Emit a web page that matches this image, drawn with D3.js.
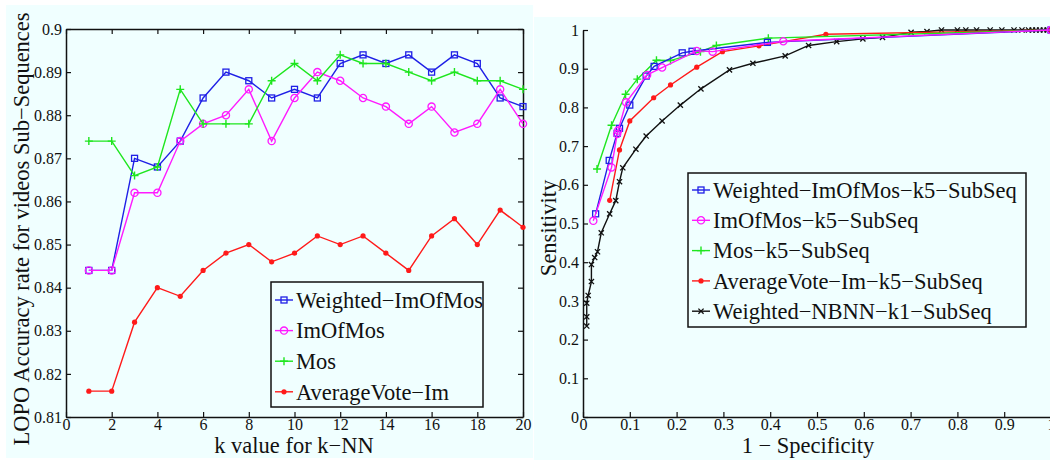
<!DOCTYPE html>
<html>
<head>
<meta charset="utf-8">
<script src="https://cdn.jsdelivr.net/npm/d3@7"></script>
<style>
body{margin:0;background:#fff;}
svg text{font-family:"Liberation Serif","Times New Roman",serif;fill:#111;}
</style>
</head>
<body>
<svg id="fig"></svg>
<script>
// left chart: accuracy vs k
var kValues=[1,2,3,4,5,6,7,8,9,10,11,12,13,14,15,16,17,18,19,20]
var weightedImOfMos=[0.844,0.844,0.870,0.868,0.874,0.884,0.890,0.888,0.884,0.886,0.884,0.892,0.894,0.892,0.894,0.890,0.894,0.892,0.884,0.882]
var imOfMos=[0.844,0.844,0.862,0.862,0.874,0.878,0.880,0.886,0.874,0.884,0.890,0.888,0.884,0.882,0.878,0.882,0.876,0.878,0.886,0.878]
var mos=[0.874,0.874,0.866,0.868,0.886,0.878,0.878,0.878,0.888,0.892,0.888,0.894,0.892,0.892,0.890,0.888,0.890,0.888,0.888,0.886]
var averageVoteIm=[0.816,0.816,0.832,0.840,0.838,0.844,0.848,0.850,0.846,0.848,0.852,0.850,0.852,0.848,0.844,0.852,0.856,0.850,0.858,0.854]
var leftNames=["Weighted\u2212ImOfMos","ImOfMos","Mos","AverageVote\u2212Im"]
var leftXTicks=[0,2,4,6,8,10,12,14,16,18,20]
var leftYTicks=[0.81,0.82,0.83,0.84,0.85,0.86,0.87,0.88,0.89,0.9]

// right chart: ROC points [1-specificity, sensitivity]
var rocWeightedImOfMos=[[0.027,0.525],[0.056,0.663],[0.073,0.733],[0.078,0.746],[0.100,0.806],[0.135,0.881],[0.152,0.906],[0.212,0.941],[0.233,0.945],[0.394,0.968],[1,1]]
var rocImOfMos=[[0.022,0.507],[0.061,0.645],[0.073,0.731],[0.075,0.740],[0.092,0.813],[0.137,0.884],[0.169,0.903],[0.243,0.946],[0.277,0.944],[0.428,0.971],[1,1]]
var rocMos=[[0.030,0.641],[0.061,0.754],[0.091,0.834],[0.116,0.873],[0.157,0.922],[0.187,0.921],[0.251,0.944],[0.285,0.960],[0.396,0.979],[1,1]]
var rocAverageVote=[[0.057,0.560],[0.078,0.690],[0.100,0.765],[0.151,0.825],[0.187,0.858],[0.243,0.904],[0.298,0.944],[0.376,0.959],[0.519,0.989],[1,1]]
var rocNBNN=[[0.008,0.235],[0.008,0.259],[0.008,0.294],[0.011,0.314],[0.018,0.350],[0.018,0.394],[0.025,0.412],[0.031,0.427],[0.039,0.476],[0.057,0.525],[0.070,0.559],[0.078,0.608],[0.085,0.644],[0.113,0.692],[0.135,0.726],[0.169,0.765],[0.208,0.806],[0.252,0.848],[0.313,0.897],[0.363,0.914],[0.432,0.933],[0.482,0.960],[0.542,0.970],[0.598,0.977],[0.640,0.981],[0.701,0.994],[0.735,0.996],[0.766,1],[0.800,1],[0.818,1],[0.841,1],[0.870,1],[0.895,1],[0.921,1],[0.938,1],[0.952,1],[0.960,1],[0.968,1],[0.976,1],[0.984,1],[0.992,1],[1,1]]
var rightNames=["Weighted\u2212ImOfMos\u2212k5\u2212SubSeq","ImOfMos\u2212k5\u2212SubSeq","Mos\u2212k5\u2212SubSeq","AverageVote\u2212Im\u2212k5\u2212SubSeq","Weighted\u2212NBNN\u2212k1\u2212SubSeq"]
var rightTicks=[0,0.1,0.2,0.3,0.4,0.5,0.6,0.7,0.8,0.9,1]

var colors=["#1f1fe6","#ff1aff","#1ee61e","#ff1a1a","#111"]
var markers=["square","circle","plus","dot","cross"]

var svg=d3.select("#fig").attr("width",1050).attr("height",460)

// panel backgrounds
svg.append("rect").attr("x",6).attr("y",5).attr("width",527).attr("height",453).attr("fill","#f0ffff")
svg.append("rect").attr("x",534).attr("y",17).attr("width",516).attr("height",443).attr("fill","#f0ffff")

var drawMarker=function(g,type,color){
    if(type=="square"){
        g.append("rect").attr("x",-3).attr("y",-3).attr("width",6).attr("height",6)
        .attr("fill","none").attr("stroke",color).attr("stroke-width",1.3)
    } else if(type=="circle"){
        g.append("circle").attr("r",3.6).attr("fill","none").attr("stroke",color).attr("stroke-width",1.3)
    } else if(type=="plus"){
        g.append("path").attr("d","M-4,0H4M0,-4V4").attr("stroke",color).attr("stroke-width",1.4)
    } else if(type=="dot"){
        g.append("circle").attr("r",2.6).attr("fill",color)
    } else {
        g.append("path").attr("d","M-2.6,-2.6L2.6,2.6M-2.6,2.6L2.6,-2.6").attr("stroke",color).attr("stroke-width",1.3)
    }
}

var drawSeries=function(g,pts,x,y,i){
    var line=d3.line().x(function(d){return x(d[0])}).y(function(d){return y(d[1])})
    g.append("path").datum(pts).attr("d",line).attr("fill","none")
    .attr("stroke",colors[i]).attr("stroke-width",1.4)
    pts.forEach(function(d){
        var m=g.append("g").attr("transform","translate("+x(d[0])+","+y(d[1])+")")
        drawMarker(m,markers[i],colors[i])
    })
}

var styleAxis=function(a){
    a.select(".domain").attr("stroke","#111").attr("stroke-width",1.5)
    a.selectAll(".tick line").attr("stroke","#111").attr("stroke-width",1.2)
    a.selectAll(".tick text").style("font-size","16px").style("font-family","Liberation Serif")
}

var drawLegend=function(g,names,x0,y0,w,h,y1,gap,idx){
    g.append("rect").attr("x",x0).attr("y",y0).attr("width",w).attr("height",h)
    .attr("fill","#f0ffff").attr("stroke","#111").attr("stroke-width",1.5)
    names.forEach(function(n,j){
        var i=idx[j]
        var yy=y1+j*gap
        g.append("line").attr("x1",x0+4).attr("x2",x0+22).attr("y1",yy).attr("y2",yy)
        .attr("stroke",colors[i]).attr("stroke-width",1.4)
        var m=g.append("g").attr("transform","translate("+(x0+13)+","+yy+")")
        drawMarker(m,markers[i],colors[i])
        g.append("text").attr("x",x0+25).attr("y",yy).attr("dy","0.35em")
        .style("font-size","22.5px").text(n)
    })
}

//---------- left chart
var lx=d3.scaleLinear().domain([0,20]).range([66,523])
var ly=d3.scaleLinear().domain([0.81,0.9]).range([417,29])
var left=svg.append("g")

var ax=left.append("g").attr("transform","translate(0,417)")
.call(d3.axisBottom(lx).tickValues(leftXTicks).tickSizeInner(-5).tickSizeOuter(0).tickPadding(2))
styleAxis(ax)
var ax2=left.append("g").attr("transform","translate(0,29)")
.call(d3.axisTop(lx).tickValues(leftXTicks).tickSizeInner(-5).tickSizeOuter(0).tickFormat(""))
styleAxis(ax2)
var ay=left.append("g").attr("transform","translate(66,0)")
.call(d3.axisLeft(ly).tickValues(leftYTicks).tickSizeInner(-5).tickSizeOuter(0).tickPadding(4).tickFormat(d3.format("")))
styleAxis(ay)
var ay2=left.append("g").attr("transform","translate(523,0)")
.call(d3.axisRight(ly).tickValues(leftYTicks).tickSizeInner(-5).tickSizeOuter(0).tickFormat(""))
styleAxis(ay2)

var leftSeries=[weightedImOfMos,imOfMos,mos,averageVoteIm]
leftSeries.forEach(function(s,i){
    var pts=kValues.map(function(k,j){return [k,s[j]]})
    drawSeries(left,pts,lx,ly,i)
})

left.append("text").attr("x",294).attr("y",453).attr("text-anchor","middle")
.style("font-size","22.5px").text("k value for k\u2212NN")
left.append("text").attr("transform","translate(29,229) rotate(-90)").attr("text-anchor","middle")
.style("font-size","22.5px").text("LOPO Accuracy rate for videos Sub\u2212Sequences")

drawLegend(left,leftNames,271,282,212,125,300,30.6,[0,1,2,3])

//---------- right chart
var rx=d3.scaleLinear().domain([0,1]).range([583,1051])
var ry=d3.scaleLinear().domain([0,1]).range([417,30])
var right=svg.append("g")

var bx=right.append("g").attr("transform","translate(0,417)")
.call(d3.axisBottom(rx).tickValues(rightTicks).tickSizeInner(-5).tickSizeOuter(0).tickPadding(2).tickFormat(d3.format("")))
styleAxis(bx)
var by=right.append("g").attr("transform","translate(583,0)")
.call(d3.axisLeft(ry).tickValues(rightTicks).tickSizeInner(-5).tickSizeOuter(0).tickPadding(4).tickFormat(d3.format("")))
styleAxis(by)

var rightSeries=[rocWeightedImOfMos,rocImOfMos,rocMos,rocAverageVote,rocNBNN]
// black drawn first so the colored lines sit on top near (1,1)
;[4,3,2,0,1].forEach(function(i){
    drawSeries(right,rightSeries[i],rx,ry,i)
})

right.append("text").attr("x",808).attr("y",453).attr("text-anchor","middle")
.style("font-size","22.5px").text("1 \u2212 Specificity")
right.append("text").attr("transform","translate(556,228) rotate(-90)").attr("text-anchor","middle")
.style("font-size","22.5px").text("Sensitivity")

drawLegend(right,rightNames,688,173,338,154,190,30.3,[0,1,2,3,4])
</script>
</body>
</html>
